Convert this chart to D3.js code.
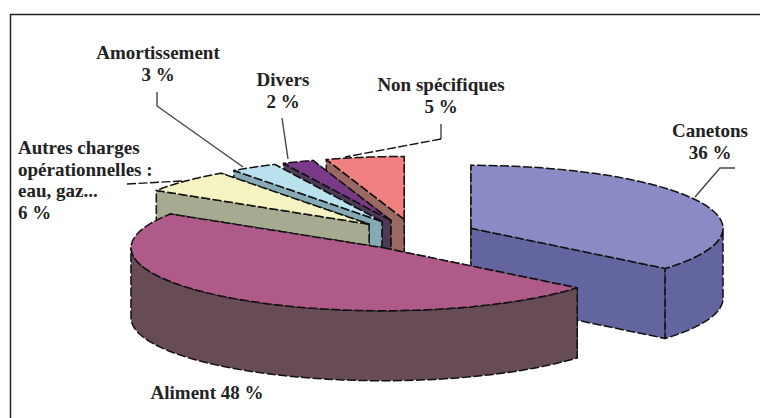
<!DOCTYPE html>
<html>
<head>
<meta charset="utf-8">
<script src="https://cdn.jsdelivr.net/npm/d3@7"></script>
<style>
  html, body { margin: 0; background: #fff; }
  svg { display: block; }
  text { font-family: "Liberation Serif", serif; font-weight: bold; font-size: 19px; fill: #222; }
</style>
</head>
<body>
<div id="chart"></div>
<script>
// DATA
const categories = ["Canetons", "Aliment", "Autres charges", "Amortissement", "Divers", "Non spécifiques"]
const shares = [36, 48, 6, 3, 2, 5]
const topColors = ["#8a8bc5", "#b05a8a", "#f5f3c2", "#b9e1ee", "#7b3a88", "#f18080"]
const sideColors = ["#62659f", "#674b55", "#a6aa90", "#85a9b5", "#4f3a55", "#9b6864"]

// label lines per category
const labelLines = [
  ["Canetons", "36 %"],
  ["Aliment 48 %"],
  ["Autres charges", "opérationnelles :", "eau, gaz...", "6 %"],
  ["Amortissement", "3 %"],
  ["Divers", "2 %"],
  ["Non spécifiques", "5 %"]
]

const width = 760, height = 418

// pie geometry
const cx = 414, cy = 235, rx = 252, ry = 63
const depth = 70
const explode = 0.25
// Aliment sits a bit right of where the plain explode puts it
const nudgeX = [0, 6, 1, 0, 0, 0]

const labelPos = [
  {x: 710, y: 137, anchor: "middle"},
  {x: 207, y: 399, anchor: "middle"},
  {x: 18, y: 154, anchor: "start"},
  {x: 158, y: 59, anchor: "middle"},
  {x: 283, y: 86, anchor: "middle"},
  {x: 441, y: 91, anchor: "middle"}
]

const leaders = [
  {pts: [[735, 168], [720, 168], [695, 197]]},
  {pts: [[127, 184], [183, 181]], dash: true},
  {pts: [[157, 92], [157, 106], [243, 167]]},
  {pts: [[282, 118], [288, 159]]},
  {pts: [[441, 124], [441, 139]]},
  {pts: [[441, 139], [345, 157]], dash: true}
]

const svg = d3.select("#chart")
  .append("svg")
    .attr("width", width)
    .attr("height", height)

// frame, only top and left
svg.append("path")
  .attr("d", "M10.5,418V14.5H760")
  .attr("fill", "none")
  .attr("stroke", "#222")
  .attr("stroke-width", 1.5)

const pie = d3.pie().sort(null).startAngle(0).endAngle(2 * Math.PI)
const arcs = pie(shares)

const xScale = d3.scaleLinear().domain([-1, 1]).range([-rx, rx])
const yScale = d3.scaleLinear().domain([-1, 1]).range([ry, -ry])

const apex = d => {
  const mid = (d.startAngle + d.endAngle) / 2
  return [cx + xScale(explode * Math.sin(mid)) + nudgeX[d.index], cy + yScale(explode * Math.cos(mid))]
}
const rim = (d, a) => {
  const p = apex(d)
  return [p[0] + xScale(Math.sin(a)), p[1] + yScale(Math.cos(a))]
}
const rimPoints = (d, a0, a1) => d3.range(0, 41).map(i => rim(d, a0 + (a1 - a0) * i / 40))
const down = pts => pts.map(p => [p[0], p[1] + depth]).reverse()
const line = d3.line()
const closed = pts => line(pts) + "Z"

const dash = "9 2.5"

function addFace(g, pts, fill) {
  g.append("path")
    .attr("d", closed(pts))
    .attr("fill", fill)
    .attr("stroke", "#111")
    .attr("stroke-width", 1.5)
    .attr("stroke-dasharray", dash)
    .attr("stroke-linejoin", "round")
}

// back to front: far slices first, Aliment last
const drawOrder = [5, 4, 3, 2, 0, 1]

const slices = svg.append("g")
drawOrder.forEach(i => {
  const d = arcs[i]
  const g = slices.append("g").attr("class", "slice")
  const p = apex(d)
  const start = rim(d, d.startAngle), end = rim(d, d.endAngle)
  const startFace = [p, start].concat(down([p, start]))
  const endFace = [p, end].concat(down([p, end]))

  // cut faces, nearer one last so no seam shows through
  const mid = (d.startAngle + d.endAngle) / 2
  if (mid > Math.PI) {
    addFace(g, endFace, sideColors[i])
    addFace(g, startFace, sideColors[i])
  } else {
    addFace(g, startFace, sideColors[i])
    addFace(g, endFace, sideColors[i])
  }

  // outer wall, only the part facing the viewer (90deg to 270deg)
  const a0 = Math.max(d.startAngle, Math.PI / 2)
  const a1 = Math.min(d.endAngle, 3 * Math.PI / 2)
  if (a1 > a0) {
    const wall = rimPoints(d, a0, a1)
    addFace(g, wall.concat(down(wall)), sideColors[i])
  }

  // top face
  addFace(g, [p].concat(rimPoints(d, d.startAngle, d.endAngle)), topColors[i])
})

// LEADER LINES
svg.append("g")
  .selectAll("path")
  .data(leaders)
  .join("path")
    .attr("d", d => line(d.pts))
    .attr("fill", "none")
    .attr("stroke", d => d.dash ? "#111" : "#444")
    .attr("stroke-width", 1.4)
    .attr("stroke-dasharray", d => d.dash ? dash : null)

// LABELS
labelLines.forEach((lines, i) => {
  const t = svg.append("text")
    .attr("x", labelPos[i].x)
    .attr("y", labelPos[i].y)
    .attr("text-anchor", labelPos[i].anchor)
  lines.forEach((s, k) => {
    t.append("tspan")
      .attr("x", labelPos[i].x)
      .attr("dy", k ? 21.5 : 0)
      .text(s)
  })
})
</script>
</body>
</html>
